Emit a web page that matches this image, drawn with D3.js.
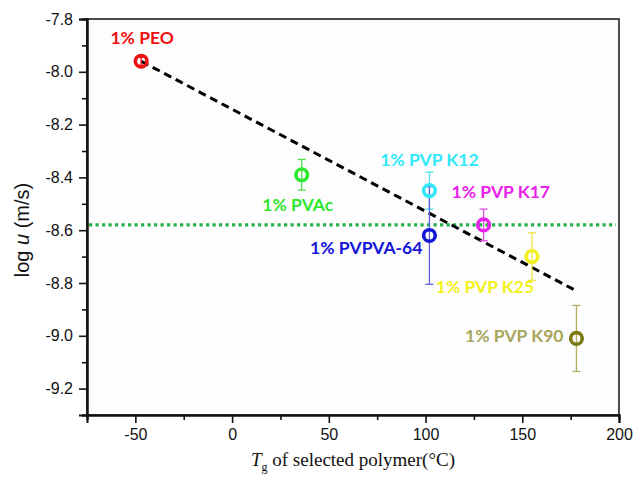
<!DOCTYPE html>
<html>
<head>
<meta charset="utf-8">
<script src="https://cdn.jsdelivr.net/npm/d3@7"></script>
<style>
  body { margin: 0; background: #fff; }
  svg { display: block; }
</style>
</head>
<body>
<svg width="644" height="480"></svg>
<script>
// values
const polymers = ["1% PEO", "1% PVAc", "1% PVP K12", "1% PVPVA-64", "1% PVP K17", "1% PVP K25", "1% PVP K90"];
const tg = [-47, 36, 102, 102, 130, 155, 178];
const logU = [-7.96, -8.39, -8.45, -8.62, -8.58, -8.70, -9.01];
const errU = [0.015, 0.058, 0.07, 0.185, 0.06, 0.09, 0.125];
const trendX = [-47, 178];
const trendY = [-7.96, -8.83];
const refY = -8.58;
const xTicks = [-50, 0, 50, 100, 150, 200];
const yTicks = [-7.8, -8.0, -8.2, -8.4, -8.6, -8.8, -9.0, -9.2];

// styling
const colors = ["#f01010", "#2ee82e", "#30e8f8", "#1414d8", "#e820e8", "#f0f020", "#7c7a12"];
const labelColors = ["#f01010", "#2ee82e", "#30e8f8", "#1414d8", "#e820e8", "#f2f21a", "#a8a65c"];
const barColors = ["#f01010", "#50e050", "#50e0f0", "#6060e0", "#e050e0", "#e8e840", "#b0ae60"];
// label placement: [dx, dy, anchor] relative to the marker
const labelPos = [[1, -17, "middle"], [-4, 36, "middle"], [0, -25, "middle"], [-7, 19, "end"],
                  [-32, -27, "start"], [-47, 36, "middle"], [-13, 4, "end"]];

const svg = d3.select("svg");
const m = { left: 87, right: 619, top: 19, bottom: 415 };

const x = d3.scaleLinear().domain([-75, 200]).range([m.left, m.right]);
const y = d3.scaleLinear().domain([-9.3, -7.8]).range([m.bottom, m.top]);

// frame
svg.append("rect")
  .attr("x", m.left).attr("y", m.top)
  .attr("width", m.right - m.left).attr("height", m.bottom - m.top)
  .attr("fill", "#fdfdfd").attr("stroke", "#111").attr("stroke-width", 1.5);

// axes
const xAxis = svg.append("g").attr("transform", `translate(0,${m.bottom})`)
  .call(d3.axisBottom(x).tickValues(xTicks).tickSize(8).tickPadding(6).tickFormat(d3.format("d")));
svg.append("g").attr("transform", `translate(0,${m.bottom})`)
  .call(d3.axisBottom(x).tickValues(d3.range(-75, 201, 50)).tickSize(5).tickFormat(""));
const yAxis = svg.append("g").attr("transform", `translate(${m.left},0)`)
  .call(d3.axisLeft(y).tickValues(yTicks).tickSize(8).tickPadding(6).tickFormat(d3.format(".1f")));
svg.append("g").attr("transform", `translate(${m.left},0)`)
  .call(d3.axisLeft(y).tickValues(d3.range(-7.9, -9.35, -0.2)).tickSize(5).tickFormat(""));

svg.selectAll(".domain").attr("stroke", "#111").attr("stroke-width", 2);
svg.selectAll(".tick line").attr("stroke", "#111").attr("stroke-width", 1.6);
svg.selectAll(".tick text")
  .attr("font-family", "Liberation Sans, Arial, sans-serif")
  .attr("font-size", 16).attr("fill", "#111");
yAxis.selectAll(".tick text").text(d => d.toFixed(1));
xAxis.selectAll(".tick text").text(d => String(d));

// axis titles
svg.append("text")
  .attr("transform", `translate(29,230) rotate(-90)`)
  .attr("text-anchor", "middle")
  .attr("font-family", "Liberation Sans, Arial, sans-serif")
  .attr("font-size", 20).attr("fill", "#111")
  .html('log <tspan font-style="italic">u</tspan> (m/s)');

const xt = svg.append("text")
  .attr("x", 353).attr("y", 466)
  .attr("text-anchor", "middle")
  .attr("font-family", "Liberation Serif, Times New Roman, serif")
  .attr("font-size", 19).attr("fill", "#111");
xt.append("tspan").attr("font-style", "italic").text("T");
xt.append("tspan").attr("font-size", 12).attr("dy", 5).text("g");
xt.append("tspan").attr("dy", -5).text(" of selected polymer(\u00B0C)");

// reference line
svg.append("line")
  .attr("x1", x(-75) + 2).attr("x2", x(200) - 3)
  .attr("y1", y(refY)).attr("y2", y(refY))
  .attr("stroke", "#22b04a").attr("stroke-width", 3.2)
  .attr("stroke-dasharray", "3.2 3.3");

// trend line
svg.append("line")
  .attr("x1", x(trendX[0])).attr("y1", y(trendY[0]))
  .attr("x2", x(trendX[1])).attr("y2", y(trendY[1]))
  .attr("stroke", "#000").attr("stroke-width", 3)
  .attr("stroke-dasharray", "8 5");

const pts = polymers.map((p, i) => ({ p, tg: tg[i], u: logU[i], e: errU[i], i }));

// error bars
const eb = svg.append("g").selectAll("g").data(pts).join("g")
  .attr("stroke", d => barColors[d.i]).attr("stroke-width", 1.3);
eb.append("line")
  .attr("x1", d => x(d.tg)).attr("x2", d => x(d.tg))
  .attr("y1", d => y(d.u - d.e)).attr("y2", d => y(d.u + d.e));
eb.append("line")
  .attr("x1", d => x(d.tg) - 4).attr("x2", d => x(d.tg) + 4)
  .attr("y1", d => y(d.u + d.e)).attr("y2", d => y(d.u + d.e));
eb.append("line")
  .attr("x1", d => x(d.tg) - 4).attr("x2", d => x(d.tg) + 4)
  .attr("y1", d => y(d.u - d.e)).attr("y2", d => y(d.u - d.e));

// markers
svg.append("g").selectAll("circle").data(pts).join("circle")
  .attr("cx", d => x(d.tg)).attr("cy", d => y(d.u))
  .attr("r", 5.8)
  .attr("fill", "none")
  .attr("stroke", d => colors[d.i]).attr("stroke-width", 3.6);

// labels
svg.append("g").selectAll("text").data(pts).join("text")
  .attr("x", d => x(d.tg) + labelPos[d.i][0])
  .attr("y", d => y(d.u) + labelPos[d.i][1])
  .attr("text-anchor", d => labelPos[d.i][2])
  .attr("font-family", "Lato, Open Sans, sans-serif")
  .attr("font-weight", "bold")
  .attr("font-size", 17.5)
  .attr("fill", d => labelColors[d.i])
  .text(d => d.p);
</script>
</body>
</html>
